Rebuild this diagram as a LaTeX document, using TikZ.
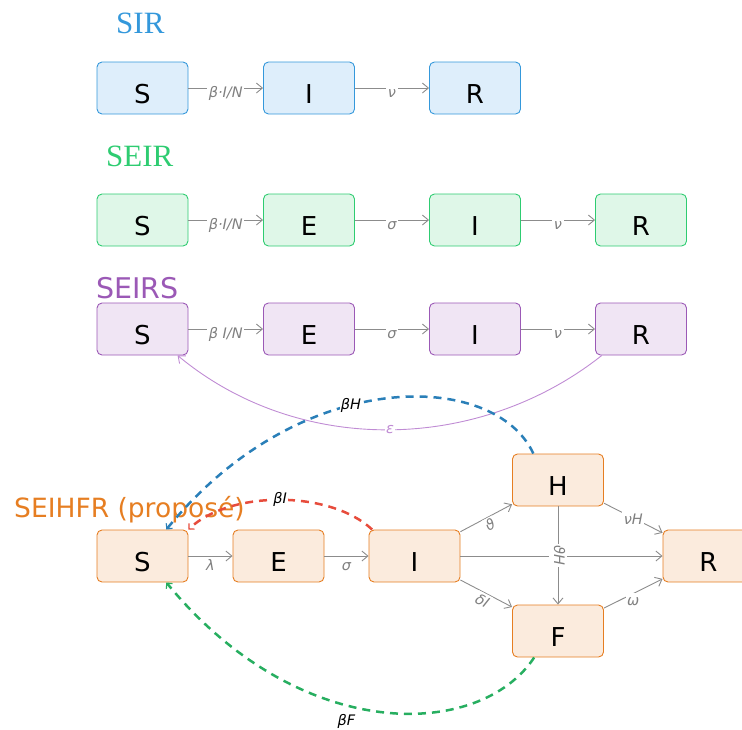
\documentclass[tikz,border=0pt]{standalone}
\usepackage{fontspec}
\setmainfont{DejaVu Sans}
\newfontfamily\ttlserif{Liberation Serif}
\usetikzlibrary{arrows.meta}
\definecolor{sirC}{HTML}{3498DB}
\definecolor{sirF}{HTML}{DEEEFB}
\definecolor{seirC}{HTML}{2ECC71}
\definecolor{seirF}{HTML}{DFF7E8}
\definecolor{seirsC}{HTML}{9B59B6}
\definecolor{seirsF}{HTML}{F0E5F4}
\definecolor{propC}{HTML}{E67E22}
\definecolor{propF}{HTML}{FBEBDD}
\definecolor{edgeC}{HTML}{8C8C8C}
\definecolor{labC}{HTML}{808080}
\definecolor{curveP}{HTML}{C08CD4}
\definecolor{dashBlue}{HTML}{2A7FB8}
\definecolor{dashRed}{HTML}{E74C3C}
\definecolor{dashGreen}{HTML}{27AE60}
\begin{document}
\begin{tikzpicture}[x=1pt,y=-1pt,
  box/.style={rectangle, rounded corners=5pt, minimum width=91pt, minimum height=52pt,
    inner sep=0pt, line width=0.9pt, font=\fontsize{26}{26}\selectfont,
    text height=31pt, text depth=0pt},
  sirbox/.style={box, draw=sirC, fill=sirF},
  seirbox/.style={box, draw=seirC, fill=seirF},
  seirsbox/.style={box, draw=seirsC, fill=seirsF},
  propbox/.style={box, draw=propC, fill=propF},
  flow/.style={draw=edgeC, line width=0.9pt, -{Straight Barb[length=6pt,width=10pt]}},
  elab/.style={fill=white, text=labC, font=\fontsize{14.5}{14.5}\selectfont\itshape,
    inner xsep=1.5pt, inner ysep=2pt, text height=11pt, text depth=3pt},
  hlab/.style={elab, anchor=base, yshift=-9pt},
  plab/.style={elab, anchor=base, yshift=-14pt},
  dashflow/.style={line width=2.5pt, dash pattern=on 8pt off 6pt,
    -{Straight Barb[length=4pt,width=8pt,line width=1.2pt]}},
  blab/.style={fill=white, text=black, font=\fontsize{14.5}{14.5}\selectfont\itshape, inner sep=1pt},
  ttl/.style={anchor=base west, inner sep=0pt}
]
\useasboundingbox (0,0) rectangle (742,729);

% ---------- SIR ----------
\node[ttl, text=sirC, font=\ttlserif\fontsize{31}{31}\selectfont] (tSIR) at (116,33) {SIR};
\node[sirbox] (S1) at (142.5,88) {S};
\node[sirbox] (I1) at (309,88) {I};
\node[sirbox] (R1) at (475,88) {R};
\draw[flow] (S1) -- node[hlab] {β·I/N} (I1);
\draw[flow] (I1) -- node[hlab] {ν} (R1);

% ---------- SEIR ----------
\node[ttl, text=seirC, font=\ttlserif\fontsize{31}{31}\selectfont] (tSEIR) at (106,166) {SEIR};
\node[seirbox] (S2) at (142.5,220) {S};
\node[seirbox] (E2) at (309,220) {E};
\node[seirbox] (I2) at (475,220) {I};
\node[seirbox] (R2) at (641,220) {R};
\draw[flow] (S2) -- node[hlab] {β·I/N} (E2);
\draw[flow] (E2) -- node[hlab] {σ} (I2);
\draw[flow] (I2) -- node[hlab] {ν} (R2);

% ---------- SEIRS ----------
\node[ttl, text=seirsC, font=\fontsize{28.5}{28.5}\selectfont] (tSEIRS) at (96,298) {SEIRS};
\node[seirsbox] (S3) at (142.5,329) {S};
\node[seirsbox] (E3) at (309,329) {E};
\node[seirsbox] (I3) at (475,329) {I};
\node[seirsbox] (R3) at (641,329) {R};
\draw[flow] (S3) -- node[hlab] {β I/N} (E3);
\draw[flow] (E3) -- node[hlab] {σ} (I3);
\draw[flow] (I3) -- node[hlab] {ν} (R3);
\draw[draw=curveP, line width=0.9pt, -{Straight Barb[length=6pt,width=10pt]}]
  (R3.214) .. controls (480,452) and (300,457) .. node[pos=.5, elab, text=curveP] {ε} (S3.-37);

% ---------- SEIHFR ----------
\node[ttl, text=propC, font=\fontsize{26.5}{26.5}\selectfont] (tPROP) at (14,517) {SEIHFR (proposé)};
\node[propbox] (S4) at (142.5,556) {S};
\node[propbox] (E4) at (278.5,556) {E};
\node[propbox] (I4) at (414.5,556) {I};
\node[propbox] (H4) at (558,480) {H};
\node[propbox] (F4) at (558,631) {F};
\node[propbox] (R4) at (708.5,556) {R};
\draw[flow] (S4) -- node[plab] {λ} (E4);
\draw[flow] (E4) -- node[plab] {σ} (I4);
\draw[flow] (I4) -- (R4);
\draw[flow] (I4) -- node[elab, sloped, below=0pt] {ϑ} (H4);
\draw[flow] (I4) -- node[elab, sloped, below=0pt] {δI} (F4);
\draw[flow] (H4) -- node[elab, sloped] {ϑH} (F4);
\draw[flow] (H4) -- node[elab, yshift=-2pt] {νH} (R4);
\draw[flow] (F4) -- node[elab, yshift=-8pt] {ω} (R4);

% dashed infection arrows
\draw[dashflow, draw=dashBlue]
  (H4.133) .. controls (495,370) and (300,365) .. node[pos=.58, blab] {βH} (S4.48);
\draw[dashflow, draw=dashRed]
  (I4.148.5) .. controls (330,490) and (230,490) .. node[pos=.5, blab] {βI} (S4.30);
\draw[dashflow, draw=dashGreen]
  (F4.228.5) .. controls (480,740) and (300,745) .. node[pos=.58, blab, below=7pt, fill=none] {βF} (S4.-48);
\end{tikzpicture}
\end{document}
